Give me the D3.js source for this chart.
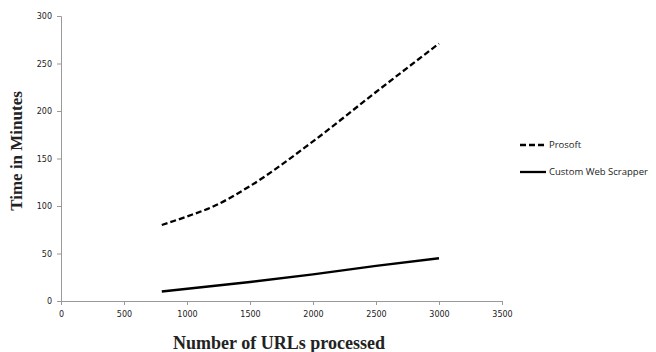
<!DOCTYPE html>
<html>
<head>
<meta charset="utf-8">
<script src="https://cdn.jsdelivr.net/npm/d3@7"></script>
<style>
  body { margin: 0; background: #fff; }
  svg text { fill: #222; }
</style>
</head>
<body>
<div id="chart"></div>
<script>
// URLs vs time data
const prosoftUrls = [800, 1000, 1200, 1500, 2000, 2500, 3000];
const prosoftTime = [80, 89, 99, 121, 168, 220, 271];
const customUrls = [800, 1500, 2000, 2500, 3000];
const customTime = [10, 20, 28, 37, 45];
const xTicks = [0, 500, 1000, 1500, 2000, 2500, 3000, 3500];
const yTicks = [0, 50, 100, 150, 200, 250, 300];
const seriesNames = ["Prosoft", "Custom Web Scrapper"];

const W = 656, H = 352;
const margin = { top: 16, right: 154, bottom: 51, left: 61 };
const width = W - margin.left - margin.right;
const height = H - margin.top - margin.bottom;

const svg = d3.select("#chart").append("svg")
    .attr("width", W).attr("height", H);

const g = svg.append("g")
    .attr("transform", `translate(${margin.left},${margin.top})`);

const x = d3.scaleLinear().domain([0, 3500]).range([0, width]);
const y = d3.scaleLinear().domain([0, 300]).range([height, 0]);

// axes
const xAxis = g.append("g")
    .attr("transform", `translate(0,${height})`)
    .call(d3.axisBottom(x).tickValues(xTicks).tickSize(4).tickPadding(6).tickFormat(d3.format("d")));
const yAxis = g.append("g")
    .call(d3.axisLeft(y).tickValues(yTicks).tickSize(4).tickPadding(5));

[xAxis, yAxis].forEach(a => {
    a.select(".domain").attr("stroke", "#999");
    a.selectAll(".tick line").attr("stroke", "#999");
    a.selectAll(".tick text")
        .style("font-family", "'DejaVu Sans', Verdana, sans-serif")
        .style("font-size", "8px")
        .attr("fill", "#333");
});

// lines
const line = d3.line()
    .x(d => x(d[0]))
    .y(d => y(d[1]))
    .curve(d3.curveMonotoneX);

const prosoft = prosoftUrls.map((u, i) => [u, prosoftTime[i]]);
const custom = customUrls.map((u, i) => [u, customTime[i]]);

g.append("path")
    .datum(prosoft)
    .attr("d", line)
    .attr("fill", "none")
    .attr("stroke", "#000")
    .attr("stroke-width", 2.3)
    .attr("stroke-dasharray", "6,3");

g.append("path")
    .datum(custom)
    .attr("d", line)
    .attr("fill", "none")
    .attr("stroke", "#000")
    .attr("stroke-width", 2.3);

// legend
const legend = svg.append("g").attr("transform", "translate(520,145)");
seriesNames.forEach((name, i) => {
    const row = legend.append("g").attr("transform", `translate(0,${i * 27})`);
    row.append("line")
        .attr("x1", 0).attr("x2", 26)
        .attr("stroke", "#000")
        .attr("stroke-width", 2.3)
        .attr("stroke-dasharray", i === 0 ? "6,3" : null);
    row.append("text")
        .attr("x", 29).attr("dy", "0.35em")
        .style("font-family", "'Open Sans', 'DejaVu Sans', sans-serif")
        .style("font-size", "9.5px")
        .text(name);
});

// axis titles
svg.append("text")
    .attr("x", margin.left + 218).attr("y", 349)
    .attr("text-anchor", "middle")
    .style("font-family", "'Liberation Serif', 'Times New Roman', serif")
    .style("font-weight", "bold")
    .style("font-size", "18px")
    .text("Number of URLs processed");

svg.append("text")
    .attr("transform", "translate(22,151) rotate(-90)")
    .attr("text-anchor", "middle")
    .style("font-family", "'Liberation Serif', 'Times New Roman', serif")
    .style("font-weight", "bold")
    .style("font-size", "17px")
    .text("Time in Minutes");
</script>
</body>
</html>
